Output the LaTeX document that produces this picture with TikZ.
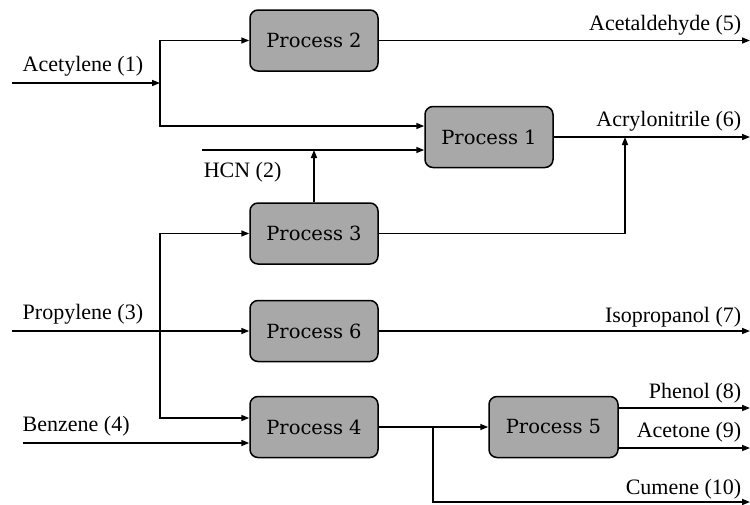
\documentclass[tikz,border=0pt]{standalone}
\usepackage{fontspec}
\newfontfamily\labelfont{Liberation Serif}
\newfontfamily\procfont{DejaVu Serif}
\usetikzlibrary{arrows.meta}
\definecolor{procgray}{RGB}{168,168,168}
\begin{document}
\begin{tikzpicture}[x=1pt,y=-1pt,
  line width=1.5pt,
  proc/.style={draw, fill=procgray, rounded corners=8pt, minimum width=128pt, minimum height=61pt, inner sep=0pt, font=\procfont\fontsize{19.5}{24}\selectfont},
  lbl/.style={font=\labelfont\fontsize{22}{26}\selectfont, inner sep=0pt},
  flow/.style={-{Triangle[length=8pt,width=6pt]}}]
\useasboundingbox (0,0) rectangle (750,504);

% process nodes
\node[proc] (p2) at (314,40.5) {Process 2};
\node[proc] (p1) at (489,137) {Process 1};
\node[proc] (p3) at (314,233.5) {Process 3};
\node[proc] (p6) at (314,331) {Process 6};
\node[proc] (p4) at (314,427) {Process 4};
\node[proc, minimum width=129pt] (p5) at (553.5,427) {Process 5};

% free ends
\coordinate (acIn) at (12,83);
\coordinate (acJ) at (160,83);
\coordinate (hcnIn) at (202,150);
\coordinate (prIn) at (12,331);
\coordinate (prJ) at (160,331);
\coordinate (bzIn) at (23,443);
\coordinate (o5) at (750,40.5);
\coordinate (o6) at (750,137);
\coordinate (j6) at (625,137);
\coordinate (o7) at (750,331);
\coordinate (o8) at (750,408);
\coordinate (o9) at (750,448);
\coordinate (j10) at (433,427);
\coordinate (o10) at (750,502);

% connectors
\draw[flow] (acIn) -- (acJ);
\draw[flow] (acJ) |- (p2.west);
\draw[flow] (acJ) |- ([yshift=11pt]p1.west);
\draw[flow] (hcnIn) -- ([yshift=-13pt]p1.west);
\draw[flow] (p3.north) -- (p3.north |- hcnIn);
\draw[flow] (p2.east) -- (o5);
\draw[flow] (p1.east) -- (o6);
\draw[flow] (p3.east) -| (j6);
\draw[flow] (prIn) -- (p6.west);
\draw[flow] (prJ) |- (p3.west);
\draw[flow] (prJ) |- ([yshift=9pt]p4.west);
\draw[flow] (bzIn) -- ([yshift=-16pt]p4.west);
\draw[flow] (p6.east) -- (o7);
\draw[flow] (p4.east) -- (p5.west);
\draw[flow] (j10) |- (o10);
\draw[flow] ([yshift=19pt]p5.east) -- (o8);
\draw[flow] ([yshift=-21pt]p5.east) -- (o9);

% labels
\node[lbl, anchor=base west] (lac) at (22,71) {Acetylene (1)};
\node[lbl, anchor=base west] (lhcn) at (203,177) {HCN (2)};
\node[lbl, anchor=base west] (lpr) at (22,319) {Propylene (3)};
\node[lbl, anchor=base west] (lbz) at (22,431) {Benzene (4)};
\node[lbl, anchor=base east] (l5) at (742,30) {Acetaldehyde (5)};
\node[lbl, anchor=base east] (l6) at (742,126) {Acrylonitrile (6)};
\node[lbl, anchor=base east] (l7) at (742,322.5) {Isopropanol (7)};
\node[lbl, anchor=base east] (l8) at (742,398) {Phenol (8)};
\node[lbl, anchor=base east] (l9) at (742,437) {Acetone (9)};
\node[lbl, anchor=base east] (l10) at (742,494) {Cumene (10)};
\end{tikzpicture}
\end{document}
